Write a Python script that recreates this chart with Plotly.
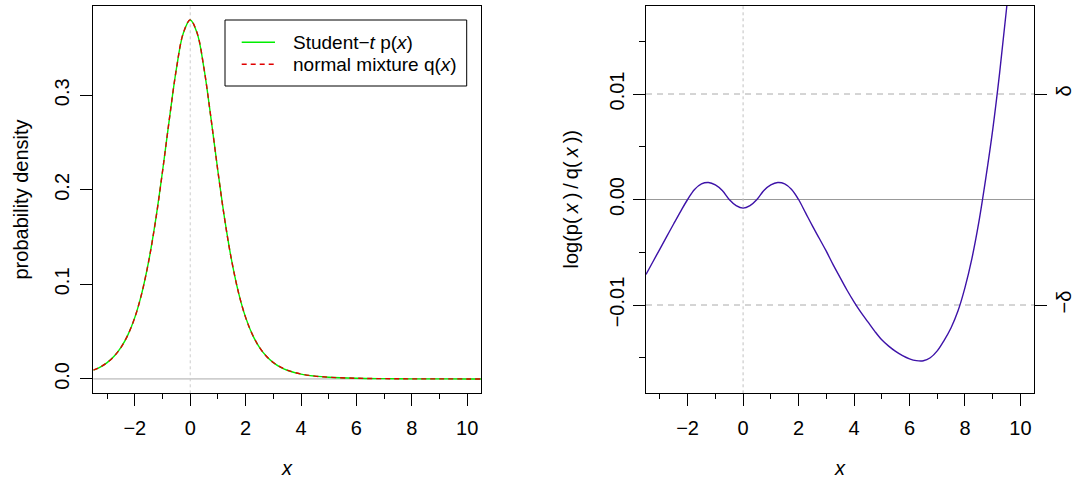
import plotly.graph_objects as go

# ---------------- data ----------------
x_dens = [-3.5, -3.25, -3.0, -2.75, -2.5, -2.25, -2.0, -1.75, -1.5, -1.25, -1.0, -0.75,
          -0.5, -0.25, 0.0, 0.25, 0.5, 0.75, 1.0, 1.25, 1.5, 1.75, 2.0, 2.25, 2.5, 2.75,
          3.0, 3.25, 3.5, 4.0, 4.5, 5.0, 6.0, 7.0, 8.0, 9.0, 10.0, 10.5]
p_student_t = [0.0092, 0.0126, 0.0173, 0.0239, 0.0333, 0.0466, 0.0651, 0.0905, 0.1245,
               0.1679, 0.2197, 0.2757, 0.3279, 0.3657, 0.3796, 0.3657, 0.3279, 0.2757,
               0.2197, 0.1679, 0.1245, 0.0905, 0.0651, 0.0466, 0.0333, 0.0239, 0.0173,
               0.0126, 0.0092, 0.0051, 0.0030, 0.0018, 0.0007, 0.0003, 0.0001, 0.0001,
               0.0000, 0.0000]
q_normal_mix = [0.0093, 0.0126, 0.0173, 0.0239, 0.0333, 0.0466, 0.0651, 0.0905, 0.1245,
                0.1676, 0.2195, 0.2757, 0.3279, 0.3659, 0.3799, 0.3659, 0.3279, 0.2757,
                0.2195, 0.1676, 0.1245, 0.0905, 0.0651, 0.0467, 0.0334, 0.0240, 0.0174,
                0.0127, 0.0093, 0.0052, 0.0030, 0.0018, 0.0007, 0.0003, 0.0001, 0.0001,
                0.0000, 0.0000]

x_ratio = [-3.5, -3.25, -3.0, -2.75, -2.5, -2.25, -2.0, -1.75, -1.5, -1.25, -1.0, -0.75,
           -0.5, -0.25, 0.0, 0.25, 0.5, 0.75, 1.0, 1.25, 1.5, 1.75, 2.0, 2.25, 2.5, 2.75,
           3.0, 3.25, 3.5, 3.75, 4.0, 4.25, 4.5, 4.75, 5.0, 5.25, 5.5, 5.75, 6.0, 6.25,
           6.5, 6.75, 7.0, 7.25, 7.5, 7.75, 8.0, 8.25, 8.5, 8.75, 9.0, 9.25, 9.5, 9.75]
log_ratio = [-0.0071, -0.0059, -0.0047, -0.0035, -0.0023, -0.00112, 0.0000, 0.00095,
             0.00148, 0.00161, 0.00138, 0.00085, 0.0000, -0.00058, -0.00082, -0.00058,
             0.0000, 0.00085, 0.00138, 0.00161, 0.00148, 0.00095, 0.0000, -0.00125,
             -0.0025, -0.0037, -0.0049, -0.0062, -0.0074, -0.0086, -0.0097, -0.0107,
             -0.0116, -0.0125, -0.0133, -0.0139, -0.0144, -0.0148, -0.0151, -0.01527,
             -0.01528, -0.0150, -0.01435, -0.01335, -0.01215, -0.01055, -0.00835,
             -0.0056, -0.00215, 0.0020, 0.0066, 0.0120, 0.0181, 0.0251]

DELTA = 0.01

x_tickvals = [-2, 0, 2, 4, 6, 8, 10]
x_ticktext = ["\u22122", "0", "2", "4", "6", "8", "10"]
x_minorvals = [-3, -1, 1, 3, 5, 7, 9]
dens_tickvals = [0.0, 0.1, 0.2, 0.3]
dens_ticktext = ["0.0", "0.1", "0.2", "0.3"]
ratio_tickvals = [-0.01, 0.0, 0.01]
ratio_ticktext = ["\u22120.01", "0.00", "0.01"]
ratio_minorvals = [-0.015, -0.005, 0.005, 0.015]
delta_tickvals = [-DELTA, DELTA]
delta_ticktext = ["\u2212\u03b4", "\u03b4"]

legend_labels = ["Student\u2212<i>t</i> p(<i>x</i>)", "normal mixture q(<i>x</i>)"]

# ---------------- layout geometry ----------------
W, H = 1078, 480
def px(v):
    return v / W
def py(v):
    return 1 - v / H

FONT = "Liberation Sans, Arial, Helvetica, sans-serif"
GREEN = "#00ee00"
RED = "#e00000"
PURPLE = "#3d12a8"

fig = go.Figure()

fig.add_trace(go.Scatter(x=x_dens, y=p_student_t, mode="lines", line_shape="spline",
                         line=dict(color=GREEN, width=1.4), name=legend_labels[0],
                         xaxis="x", yaxis="y", showlegend=False))
fig.add_trace(go.Scatter(x=x_dens, y=q_normal_mix, mode="lines", line_shape="spline",
                         line=dict(color=RED, width=1.4, dash="5px,4px"), name=legend_labels[1],
                         xaxis="x", yaxis="y", showlegend=False))
fig.add_trace(go.Scatter(x=x_ratio, y=log_ratio, mode="lines", line_shape="spline",
                         line=dict(color=PURPLE, width=1.4), name="log(p/q)",
                         xaxis="x2", yaxis="y2", showlegend=False))
# invisible helper trace so the right-hand delta axis is drawn
fig.add_trace(go.Scatter(x=[0, 0], y=delta_tickvals, mode="lines", line=dict(width=0),
                         opacity=0, hoverinfo="skip", xaxis="x2", yaxis="y3", showlegend=False))

common_axis = dict(showline=True, linecolor="black", linewidth=1, mirror=True,
                   ticks="outside", ticklen=12, tickwidth=1, tickcolor="black",
                   showgrid=False, zeroline=False, automargin=False,
                   tickfont=dict(family=FONT, size=20, color="black"))

xdom1 = [px(93.3), px(481)]
xdom2 = [px(646), px(1034.3)]
ydom = [py(393.3), py(5.7)]

fig.update_layout(
    width=W, height=H, margin=dict(l=0, r=0, t=0, b=0),
    paper_bgcolor="white", plot_bgcolor="white", template="none",
    font=dict(family=FONT, size=20, color="black"),
    showlegend=False,
    xaxis=dict(domain=xdom1, anchor="y", range=[-3.5, 10.5], tickmode="array",
               tickvals=x_tickvals, ticktext=x_ticktext, ticklabelstandoff=5,
               minor=dict(tickmode="array", tickvals=x_minorvals, ticklen=5,
                          ticks="outside", tickcolor="black", tickwidth=1),
               **common_axis),
    yaxis=dict(domain=ydom, anchor="x", range=[-0.0152, 0.3948], tickmode="array",
               tickvals=dens_tickvals, ticktext=dens_ticktext, tickangle=-90,
               ticklabelstandoff=3, **common_axis),
    xaxis2=dict(domain=xdom2, anchor="y2", range=[-3.5, 10.5], tickmode="array",
                tickvals=x_tickvals, ticktext=x_ticktext, ticklabelstandoff=5,
                minor=dict(tickmode="array", tickvals=x_minorvals, ticklen=5,
                           ticks="outside", tickcolor="black", tickwidth=1),
                **common_axis),
    yaxis2=dict(domain=ydom, anchor="x2", range=[-0.01837, 0.01837], tickmode="array",
                tickvals=ratio_tickvals, ticktext=ratio_ticktext, tickangle=-90,
                ticklabelstandoff=1,
                minor=dict(tickmode="array", tickvals=ratio_minorvals, ticklen=6,
                           ticks="outside", tickcolor="black", tickwidth=1),
                **common_axis),
    yaxis3=dict(overlaying="y2", side="right", anchor="x2", range=[-0.01837, 0.01837],
                tickmode="array", tickvals=delta_tickvals, ticktext=delta_ticktext,
                tickangle=-90, ticks="outside", ticklen=12, tickwidth=1, tickcolor="black",
                showline=False, showgrid=False, zeroline=False, automargin=False,
                ticklabelstandoff=0,
                tickfont=dict(family=FONT, size=20, color="black")),
)

shapes = []
# left panel reference lines
shapes.append(dict(type="line", xref="x domain", yref="y", x0=0, x1=1, y0=0, y1=0,
                   line=dict(color="#aaaaaa", width=1), layer="below"))
shapes.append(dict(type="line", xref="x", yref="y domain", x0=0, x1=0, y0=0, y1=1,
                   line=dict(color="#cccccc", width=1, dash="dot"), layer="below"))
# right panel reference lines
shapes.append(dict(type="line", xref="x2 domain", yref="y2", x0=0, x1=1, y0=0, y1=0,
                   line=dict(color="#999999", width=1), layer="below"))
for d in delta_tickvals:
    shapes.append(dict(type="line", xref="x2 domain", yref="y2", x0=0, x1=1, y0=d, y1=d,
                       line=dict(color="#aaaaaa", width=1, dash="6px,5px"), layer="below"))
shapes.append(dict(type="line", xref="x2", yref="y2 domain", x0=0, x1=0, y0=0, y1=1,
                   line=dict(color="#c0c0c0", width=1, dash="dot"), layer="below"))
# legend box and samples
shapes.append(dict(type="rect", xref="paper", yref="paper", x0=px(225), x1=px(466.7),
                   y0=py(86), y1=py(20), line=dict(color="black", width=1),
                   fillcolor="white"))
shapes.append(dict(type="line", xref="paper", yref="paper", x0=px(241.7), x1=px(275),
                   y0=py(42.3), y1=py(42.3), line=dict(color=GREEN, width=1.4)))
shapes.append(dict(type="line", xref="paper", yref="paper", x0=px(241.7), x1=px(275),
                   y0=py(64.3), y1=py(64.3), line=dict(color=RED, width=1.4, dash="5px,4px")))

annotations = []
for lab, yy in zip(legend_labels, [42.3, 64.3]):
    annotations.append(dict(text=lab, xref="paper", yref="paper", x=px(291), y=py(yy),
                            xanchor="left", yanchor="middle", showarrow=False,
                            font=dict(family=FONT, size=19, color="black")))
annotations.append(dict(text="probability density", xref="paper", yref="paper",
                        x=px(20), y=py(199.5), textangle=-90, showarrow=False,
                        xanchor="center", yanchor="middle",
                        font=dict(family=FONT, size=20, color="black")))
annotations.append(dict(text="log(p(\u2009<i>x</i>\u2009)\u2009/\u2009q(\u2009<i>x</i>\u2009))",
                        xref="paper", yref="paper", x=px(570), y=py(199.5), textangle=-90,
                        showarrow=False, xanchor="center", yanchor="middle",
                        font=dict(family=FONT, size=20, color="black")))
for cx in [287, 840]:
    annotations.append(dict(text="<i>x</i>", xref="paper", yref="paper", x=px(cx),
                            y=py(468), showarrow=False, xanchor="center", yanchor="middle",
                            font=dict(family=FONT, size=20, color="black")))

fig.update_layout(shapes=shapes, annotations=annotations)

fig.write_html("out.html", config={"displayModeBar": False},
               post_script="document.body.style.margin='0px';document.body.style.overflow='hidden';")
